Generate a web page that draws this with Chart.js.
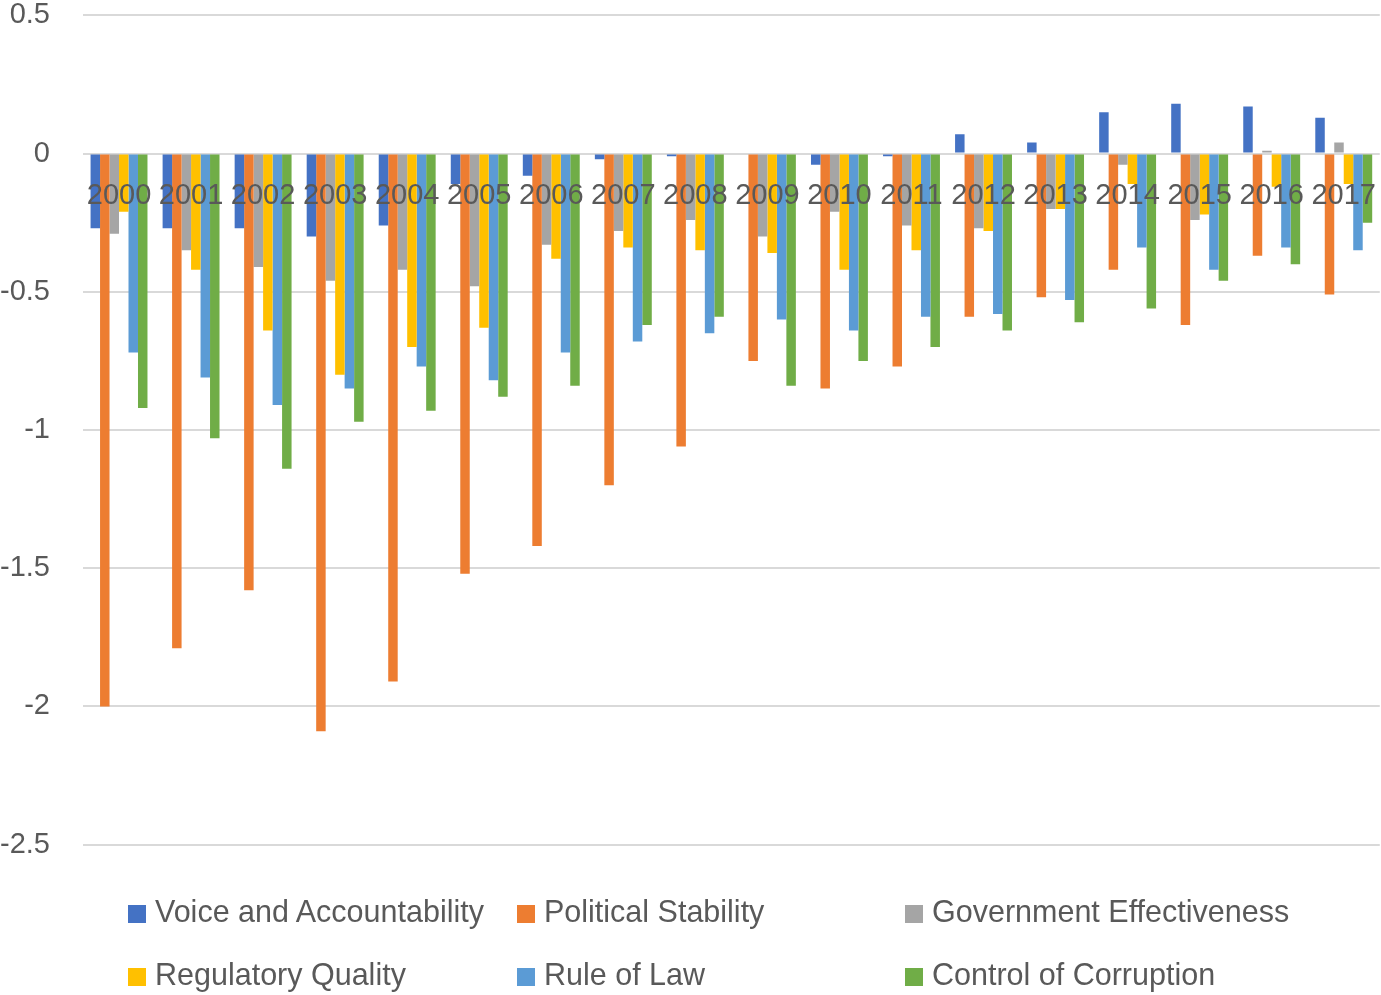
<!DOCTYPE html>
<html lang="en">
<head>
    <meta charset="UTF-8">
    <title>Governance Indicators 2000-2017</title>
    <script src="https://cdn.jsdelivr.net/npm/chart.js"></script>
    <style>
        body {
            margin: 0;
            background: #fff;
            font-family: 'Liberation Sans', Arial, sans-serif;
        }
        .wrap {
            position: relative;
            width: 1381px;
            height: 995px;
            overflow: hidden;
        }
        .chart-box {
            position: absolute;
            left: 0;
            top: -35px;
            width: 1401px;
            height: 930px;
        }
        #legend {
            position: absolute;
            left: 128px;
            top: 880px;
            display: grid;
            grid-template-columns: 389px 388px 388px;
        }
        .item {
            height: 63px;
            line-height: 63px;
            font-size: 30.5px;
            color: #595959;
            white-space: nowrap;
        }
        .item span {
            display: inline-block;
            width: 18px;
            height: 18px;
            margin-right: 9px;
            vertical-align: -1px;
        }
    </style>
</head>
<body>
    <div class="wrap">
        <div class="chart-box">
            <canvas id="govChart"></canvas>
        </div>
        <div id="legend"></div>
    </div>

    <script>
        // values
        const years = ['2000', '2001', '2002', '2003', '2004', '2005', '2006', '2007', '2008',
                       '2009', '2010', '2011', '2012', '2013', '2014', '2015', '2016', '2017'];
        const voice = [-0.27, -0.27, -0.27, -0.30, -0.26, -0.11, -0.08, -0.02, -0.01,
                       0.00, -0.04, -0.01, 0.07, 0.04, 0.15, 0.18, 0.17, 0.13];
        const political = [-2.00, -1.79, -1.58, -2.09, -1.91, -1.52, -1.42, -1.20, -1.06,
                           -0.75, -0.85, -0.77, -0.59, -0.52, -0.42, -0.62, -0.37, -0.51];
        const government = [-0.29, -0.35, -0.41, -0.46, -0.42, -0.48, -0.33, -0.28, -0.24,
                            -0.30, -0.21, -0.26, -0.27, -0.20, -0.04, -0.24, 0.01, 0.04];
        const regulatory = [-0.21, -0.42, -0.64, -0.80, -0.70, -0.63, -0.38, -0.34, -0.35,
                            -0.36, -0.42, -0.35, -0.28, -0.20, -0.11, -0.22, -0.12, -0.11];
        const ruleOfLaw = [-0.72, -0.81, -0.91, -0.85, -0.77, -0.82, -0.72, -0.68, -0.65,
                           -0.60, -0.64, -0.59, -0.58, -0.53, -0.34, -0.42, -0.34, -0.35];
        const corruption = [-0.92, -1.03, -1.14, -0.97, -0.93, -0.88, -0.84, -0.62, -0.59,
                            -0.84, -0.75, -0.70, -0.64, -0.61, -0.56, -0.46, -0.40, -0.25];

        const seriesNames = ['Voice and Accountability', 'Political Stability', 'Government Effectiveness',
                             'Regulatory Quality', 'Rule of Law', 'Control of Corruption'];
        const seriesData = [voice, political, government, regulatory, ruleOfLaw, corruption];
        const colors = ['#4472C4', '#ED7D31', '#A5A5A5', '#FFC000', '#5B9BD5', '#70AD47'];

        const yMin = -2.5, yMax = 0.5, yStep = 0.5;
        const labelFont = { family: "'Liberation Sans', Arial, sans-serif", size: 29 };

        const ctx = document.getElementById('govChart').getContext('2d');
        const chart = new Chart(ctx, {
            type: 'bar',
            data: {
                labels: years,
                datasets: seriesNames.map((name, i) => ({
                    label: name,
                    data: seriesData[i],
                    backgroundColor: colors[i],
                    borderWidth: 0,
                    categoryPercentage: 0.79,
                    barPercentage: 1.0
                }))
            },
            options: {
                responsive: true,
                maintainAspectRatio: false,
                animation: false,
                plugins: {
                    legend: { display: false },
                    tooltip: { enabled: false }
                },
                scales: {
                    x: {
                        position: { y: 0 },
                        grid: { display: false, drawTicks: false },
                        border: { display: false },
                        ticks: {
                            z: 1,   // year labels sit on top of the bars
                            color: '#595959',
                            font: labelFont,
                            padding: 25,
                            maxRotation: 0,
                            autoSkip: false
                        }
                    },
                    y: {
                        min: yMin,
                        max: yMax,
                        afterFit: (scale) => { scale.width = 83; },
                        grid: { color: '#d9d9d9', lineWidth: 2, drawTicks: false },
                        border: { display: false },
                        ticks: {
                            stepSize: yStep,
                            color: '#595959',
                            font: labelFont,
                            padding: 33,
                            callback: (v) => String(+v.toFixed(2))
                        }
                    }
                }
            }
        });

        // legend laid out in three columns like the original
        const legendEl = document.getElementById('legend');
        chart.data.datasets.forEach((ds) => {
            const item = document.createElement('div');
            item.className = 'item';
            const box = document.createElement('span');
            box.style.background = ds.backgroundColor;
            item.appendChild(box);
            item.appendChild(document.createTextNode(ds.label));
            legendEl.appendChild(item);
        });
    </script>
</body>
</html>
